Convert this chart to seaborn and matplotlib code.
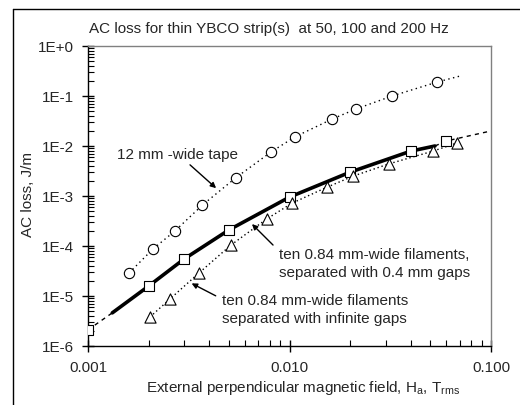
import matplotlib
matplotlib.use("Agg")
import matplotlib.pyplot as plt
import seaborn as sns
import pandas as pd
from matplotlib.lines import Line2D
from matplotlib.ticker import FixedLocator, FixedFormatter, LogLocator, NullFormatter

# 12 mm wide tape (circles) and its dotted curve
tape_x = [0.0016, 0.0021, 0.0027, 0.0037, 0.0054, 0.0081, 0.0106, 0.0163, 0.0214, 0.0323, 0.054]
tape_y = [2.9e-5, 8.7e-5, 2.0e-4, 6.6e-4, 2.3e-3, 7.6e-3, 0.0151, 0.0347, 0.055, 0.10, 0.19]
tape_curve_x = tape_x + [0.070]
tape_curve_y = tape_y + [0.25]

# ten filaments, 0.4 mm gaps (squares), bold curve and thin dashed extension
gap_x = [0.001, 0.002, 0.003, 0.005, 0.01, 0.02, 0.04, 0.06]
gap_y = [2.1e-6, 1.58e-5, 5.5e-5, 2.09e-4, 9.5e-4, 3.0e-3, 7.9e-3, 0.0126]
bold_x = [0.00132, 0.002, 0.003, 0.005, 0.01, 0.02, 0.04, 0.0527]
bold_y = [4.6e-6, 1.58e-5, 5.5e-5, 2.09e-4, 9.5e-4, 3.0e-3, 7.9e-3, 0.0100]
dash_low_x = [0.001, 0.00132]
dash_low_y = [2.1e-6, 4.6e-6]
dash_high_x = [0.0527, 0.06, 0.1]
dash_high_y = [0.0100, 0.0126, 0.020]

# ten filaments, infinite gaps (triangles)
inf_x = [0.00203, 0.00255, 0.00356, 0.00513, 0.00773, 0.0103, 0.01535, 0.0207, 0.0312, 0.0515, 0.0678]
inf_y = [3.8e-6, 8.7e-6, 2.9e-5, 1.05e-4, 3.5e-4, 7.2e-4, 1.5e-3, 2.5e-3, 4.4e-3, 7.9e-3, 0.0115]

x_ticks = [0.001, 0.01, 0.1]
x_labels = ["0.001", "0.010", "0.100"]
y_ticks = [1e-6, 1e-5, 1e-4, 1e-3, 1e-2, 1e-1, 1e0]
y_labels = ["1E-6", "1E-5", "1E-4", "1E-3", "1E-2", "1E-1", "1E+0"]

sns.set_theme(style="ticks")
plt.rcParams['font.family'] = ['Liberation Sans', 'DejaVu Sans']
plt.rcParams['font.size'] = 11
fs = 11

fig = plt.figure(figsize=(5.2, 4.05), dpi=100)
ax = fig.add_axes([88 / 520, 1 - 346 / 405, 403 / 520, 300 / 405])

# lines
sns.lineplot(x=tape_curve_x, y=tape_curve_y, ax=ax, sort=False, estimator=None,
             color='black', lw=1, linestyle=(0, (1, 2.5)))
sns.lineplot(x=inf_x, y=inf_y, ax=ax, sort=False, estimator=None,
             color='black', lw=1, linestyle=(0, (1, 2)))
sns.lineplot(x=dash_low_x, y=dash_low_y, ax=ax, sort=False, estimator=None,
             color='black', lw=1, linestyle=(0, (3, 3)))
sns.lineplot(x=dash_high_x, y=dash_high_y, ax=ax, sort=False, estimator=None,
             color='black', lw=1, linestyle=(0, (3, 3)))
sns.lineplot(x=bold_x, y=bold_y, ax=ax, sort=False, estimator=None,
             color='black', lw=2.6)

# markers
sns.scatterplot(x=tape_x, y=tape_y, ax=ax, marker='o', s=55, facecolor='white',
                edgecolor='black', linewidth=0.8, zorder=5)
sns.scatterplot(x=gap_x, y=gap_y, ax=ax, marker='s', s=55, facecolor='white',
                edgecolor='black', linewidth=0.8, zorder=5)
sns.scatterplot(x=inf_x, y=inf_y, ax=ax, marker='^', s=65, facecolor='white',
                edgecolor='black', linewidth=0.8, zorder=5)

ax.set_xscale('log')
ax.set_yscale('log')
ax.set_xlim(0.001, 0.1)
ax.set_ylim(1e-6, 1e0)

ax.xaxis.set_major_locator(FixedLocator(x_ticks))
ax.xaxis.set_major_formatter(FixedFormatter(x_labels))
ax.yaxis.set_major_locator(FixedLocator(y_ticks))
ax.yaxis.set_major_formatter(FixedFormatter(y_labels))
ax.xaxis.set_minor_locator(LogLocator(base=10, subs=range(2, 10)))
ax.yaxis.set_minor_locator(LogLocator(base=10, subs=range(2, 10)))
ax.xaxis.set_minor_formatter(NullFormatter())
ax.yaxis.set_minor_formatter(NullFormatter())

ax.tick_params(which='major', direction='inout', length=8, width=1, color='black',
               labelsize=fs)
ax.tick_params(axis='x', which='major', pad=7)
ax.tick_params(axis='y', which='major', pad=6)
ax.tick_params(which='minor', direction='in', length=4, width=0.8, color='black')

for s in ['left', 'bottom']:
    ax.spines[s].set_color('black')
    ax.spines[s].set_linewidth(1)
for s in ['top', 'right']:
    ax.spines[s].set_color('#808080')
    ax.spines[s].set_linewidth(1)

ax.set_xlabel('')
ax.set_ylabel('')

# annotations
ax.text(0.072, 0.637, "12 mm -wide tape", transform=ax.transAxes, ha='left', va='center', fontsize=fs)
ax.annotate('', xy=(0.323, 0.52), xytext=(0.248, 0.61), xycoords='axes fraction',
            arrowprops=dict(arrowstyle='-|>', color='black', lw=1, mutation_scale=8))
ax.text(0.474, 0.273, "ten 0.84 mm-wide filaments,\nseparated with 0.4 mm gaps",
        transform=ax.transAxes, ha='left', va='center', fontsize=fs, linespacing=1.3)
ax.annotate('', xy=(0.402, 0.413), xytext=(0.464, 0.33), xycoords='axes fraction',
            arrowprops=dict(arrowstyle='-|>', color='black', lw=1, mutation_scale=8))
ax.text(0.333, 0.12, "ten 0.84 mm-wide filaments\nseparated with infinite gaps",
        transform=ax.transAxes, ha='left', va='center', fontsize=fs, linespacing=1.3)
ax.annotate('', xy=(0.251, 0.213), xytext=(0.323, 0.163), xycoords='axes fraction',
            arrowprops=dict(arrowstyle='-|>', color='black', lw=1, mutation_scale=8))

# titles and axis labels
fig.text(269 / 520, 1 - 29 / 405, "AC loss for thin YBCO strip(s)  at 50, 100 and 200 Hz",
         ha='center', va='center', fontsize=fs)
fig.text(28 / 520, 1 - 195 / 405, "AC loss, J/m", rotation=90, ha='center', va='center', fontsize=fs)
fig.text(303 / 520, 1 - 388 / 405,
         r"External perpendicular magnetic field, H$_\mathregular{a}$, T$_\mathregular{rms}$",
         ha='center', va='center', fontsize=fs)

# outer frame (left and top edges only visible)
fig.add_artist(Line2D([13 / 520, 13 / 520], [0, 1 - 9 / 405], transform=fig.transFigure,
                      color='black', lw=1))
fig.add_artist(Line2D([13 / 520, 1], [1 - 9 / 405, 1 - 9 / 405], transform=fig.transFigure,
                      color='black', lw=1))

fig.savefig("out.png", dpi=100)
